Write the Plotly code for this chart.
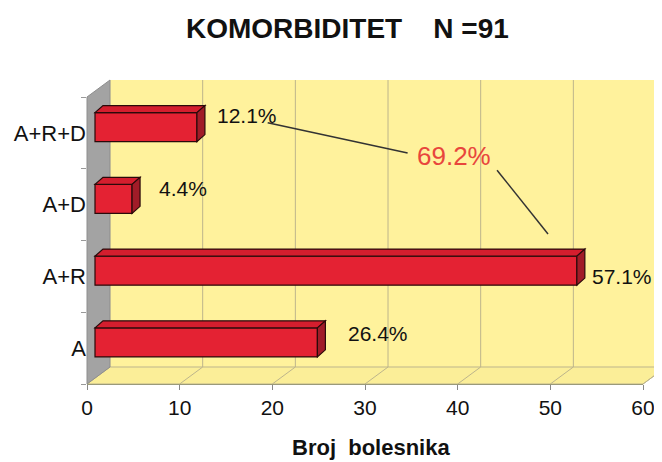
import plotly.graph_objects as go

# ---- data ----
categories = ["A", "A+R", "A+D", "A+R+D"]
patients = [24, 52, 4, 11]
total_n = 91
x_ticks = [0, 10, 20, 30, 40, 50, 60]
combined_pct_label = "69.2%"
title_text = "KOMORBIDITET\u00a0\u00a0\u00a0\u00a0N =91"
x_title = "Broj\u00a0\u00a0bolesnika"

# ---- styling / pseudo-3D geometry ----
YELLOW = "#FFF29C"
FLOOR = "#FBEE98"
WALL = "#A3A3A3"
GRID = "#BDB58C"
RED = "#E42233"
RED_TOP = "#D41E2E"
RED_SIDE = "#A11C28"
EDGE = "#2A0A0A"
FONT = "Liberation Sans, Arial, sans-serif"
TXT = "#111111"

X_MAX = 60
DEPTH_X = 0.863      # bar plane shift (axis units)
FACE_DX = 0.863      # bar depth, x (axis units)
FACE_DY = 0.098      # bar depth, y (axis units)
BAR_SHIFT = 0.08
BAR_W = 0.404
WALL_DX = 0.0414     # back-wall shift (paper)
WALL_DY = 0.0592

ypos = [i + BAR_SHIFT for i in range(len(categories))]
pct = [f"{100 * v / total_n:.1f}%" for v in patients]

fig = go.Figure()
fig.add_trace(go.Bar(
    y=ypos, x=patients, base=[DEPTH_X] * len(patients), orientation="h",
    width=BAR_W, marker=dict(color=RED, line=dict(color=EDGE, width=1.2)),
    hoverinfo="x+text", hovertext=categories, showlegend=False,
))

shapes = []
# back wall
shapes.append(dict(type="rect", xref="paper", yref="paper", x0=WALL_DX, x1=1 + WALL_DX,
                   y0=WALL_DY, y1=1 + WALL_DY, fillcolor=YELLOW, line=dict(width=0), layer="below"))
# floor
shapes.append(dict(type="path", xref="paper", yref="paper",
                   path=f"M 0 0 L 1 0 L {1+WALL_DX} {WALL_DY} L {WALL_DX} {WALL_DY} Z",
                   fillcolor=FLOOR, line=dict(color=GRID, width=1), layer="below"))
# left wall
shapes.append(dict(type="path", xref="paper", yref="paper",
                   path=f"M 0 0 L 0 1 L {WALL_DX} {1+WALL_DY} L {WALL_DX} {WALL_DY} Z",
                   fillcolor=WALL, line=dict(color="#8E8E8E", width=1), layer="below"))
# gridlines on back wall + floor
for v in x_ticks[1:]:
    px = v / X_MAX
    shapes.append(dict(type="line", xref="paper", yref="paper", x0=px + WALL_DX, x1=px + WALL_DX,
                       y0=WALL_DY, y1=1 + WALL_DY, line=dict(color=GRID, width=1), layer="below"))
    shapes.append(dict(type="line", xref="paper", yref="paper", x0=px, x1=px + WALL_DX,
                       y0=0, y1=WALL_DY, line=dict(color=GRID, width=1), layer="below"))

# 3D faces of bars
for y, v in zip(ypos, patients):
    x0 = DEPTH_X
    x1 = DEPTH_X + v
    top = y + BAR_W / 2
    bot = y - BAR_W / 2
    shapes.append(dict(type="path", xref="x", yref="y",
                       path=f"M {x0} {top} L {x1} {top} L {x1+FACE_DX} {top+FACE_DY} L {x0+FACE_DX} {top+FACE_DY} Z",
                       fillcolor=RED_TOP, line=dict(color=EDGE, width=1.2), layer="above"))
    shapes.append(dict(type="path", xref="x", yref="y",
                       path=f"M {x1} {top} L {x1+FACE_DX} {top+FACE_DY} L {x1+FACE_DX} {bot+FACE_DY} L {x1} {bot} Z",
                       fillcolor=RED_SIDE, line=dict(color=EDGE, width=1.2), layer="above"))

# connector lines for 69.2% callout
shapes.append(dict(type="line", xref="x", yref="y", x0=19.5, y0=3.14, x1=34.6, y1=2.72,
                   line=dict(color="#333333", width=1.5)))
shapes.append(dict(type="line", xref="x", yref="y", x0=44.25, y0=2.48, x1=49.75, y1=1.59,
                   line=dict(color="#333333", width=1.5)))

annotations = []
label_dx = [3.9, 2.3, 3.55, 2.8]
label_dy = [0.13, -0.08, 0.14, 0.16]
for i, (v, t) in enumerate(zip(patients, pct)):
    annotations.append(dict(x=v + label_dx[i], y=ypos[i] + label_dy[i], xref="x", yref="y",
                            text=t, showarrow=False, xanchor="left", yanchor="middle",
                            font=dict(family=FONT, size=21, color=TXT)))
annotations.append(dict(x=39.6, y=2.68, xref="x", yref="y", text=combined_pct_label,
                        showarrow=False, xanchor="center", yanchor="middle",
                        font=dict(family=FONT, size=26, color="#E8463C")))
annotations.append(dict(x=0.468, y=1.24, xref="paper", yref="paper", text=f"<b>{title_text}</b>",
                        showarrow=False, xanchor="center", yanchor="middle",
                        font=dict(family=FONT, size=28, color=TXT)))
annotations.append(dict(x=0.511, y=-0.22, xref="paper", yref="paper", text=f"<b>{x_title}</b>",
                        showarrow=False, xanchor="center", yanchor="middle",
                        font=dict(family=FONT, size=22, color=TXT)))

# page body has an 8px default margin, so the figure is 8px smaller and shifted
fig.update_layout(
    width=654, height=454,
    margin=dict(l=79, r=19, t=89, b=78, autoexpand=False),
    paper_bgcolor="white", plot_bgcolor=YELLOW,
    shapes=shapes, annotations=annotations,
    xaxis=dict(range=[0, X_MAX], tickvals=x_ticks, ticks="outside", ticklen=5,
               tickcolor="#888888", showgrid=False, zeroline=False, showline=True,
               linecolor="#9A9A7A", linewidth=1, automargin=False,
               tickfont=dict(family=FONT, size=21, color=TXT), fixedrange=True),
    yaxis=dict(range=[-0.5, 3.5], tickvals=list(range(len(categories))), ticktext=categories,
               ticks="", showgrid=False, zeroline=False, showline=False, automargin=False,
               tickfont=dict(family=FONT, size=22, color=TXT),
               minor=dict(tick0=0.5, dtick=1, ticks="outside", ticklen=5, tickcolor="#999999"),
               fixedrange=True),
    bargap=0.6,
)

fig.write_html("out.html")
